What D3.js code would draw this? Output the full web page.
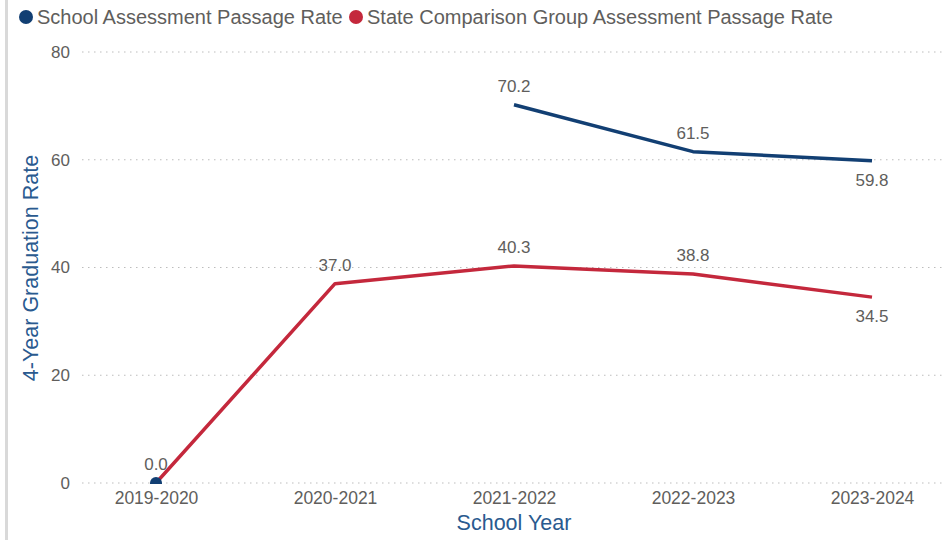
<!DOCTYPE html>
<html>
<head>
<meta charset="utf-8">
<script src="https://cdn.jsdelivr.net/npm/d3@7"></script>
<style>
  body { margin: 0; background: #fff; }
  svg { font-family: "Liberation Sans", Arial, sans-serif; }
</style>
</head>
<body>
<div id="chart"></div>
<script>
// Chart data
const years = ["2019-2020", "2020-2021", "2021-2022", "2022-2023", "2023-2024"];
const schoolRate = [0.0, null, 70.2, 61.5, 59.8];
const stateRate = [0.0, 37.0, 40.3, 38.8, 34.5];
const yTicks = [0, 20, 40, 60, 80];
// label placement: "above" or "below"
const schoolLabelPos = ["above", null, "above", "above", "below"];
const stateLabelPos = [null, "above", "above", "above", "below"];

const W = 948, H = 540;
const plotLeft = 82, plotRight = 945, plotTop = 52, plotBottom = 483;

const svg = d3.select("#chart").append("svg")
    .attr("width", W)
    .attr("height", H);

// Left frame edge
svg.append("rect")
    .attr("x", 5).attr("y", 0)
    .attr("width", 3).attr("height", H)
    .attr("fill", "#d9d9d9");

const x = d3.scalePoint()
    .domain(years)
    .range([156, 872]);

const y = d3.scaleLinear()
    .domain([0, 80])
    .range([plotBottom, plotTop]);

// Gridlines
svg.append("g")
    .selectAll("line")
    .data(yTicks)
    .enter()
    .append("line")
    .attr("x1", plotLeft)
    .attr("x2", plotRight)
    .attr("y1", d => y(d))
    .attr("y2", d => y(d))
    .attr("stroke", "#bdbdbd")
    .attr("stroke-width", 1.2)
    .attr("stroke-dasharray", "1.5,4.5");

// Y axis labels
const yAxis = svg.append("g")
    .attr("transform", "translate(70,0)")
    .call(d3.axisLeft(y).tickValues(yTicks).tickSize(0).tickPadding(0));
yAxis.select(".domain").remove();
yAxis.selectAll("text")
    .attr("fill", "#605e5c")
    .style("font-size", "17px");

// X axis labels
const xAxis = svg.append("g")
    .attr("transform", `translate(0,${plotBottom + 9})`)
    .call(d3.axisBottom(x).tickSize(0).tickPadding(0));
xAxis.select(".domain").remove();
xAxis.selectAll("text")
    .attr("fill", "#605e5c")
    .attr("dy", "0.71em")
    .style("font-size", "17.5px");

// Axis titles
svg.append("text")
    .attr("x", 514)
    .attr("y", 530)
    .attr("text-anchor", "middle")
    .attr("fill", "#2a5a8f")
    .style("font-size", "21.5px")
    .text("School Year");

svg.append("text")
    .attr("transform", "translate(38,268) rotate(-90)")
    .attr("text-anchor", "middle")
    .attr("fill", "#2a5a8f")
    .style("font-size", "21.5px")
    .text("4-Year Graduation Rate");

// Clip marks to plot area
svg.append("clipPath").attr("id", "plot-clip")
    .append("rect")
    .attr("x", 0).attr("y", 0)
    .attr("width", W).attr("height", plotBottom + 1);

const plot = svg.append("g").attr("clip-path", "url(#plot-clip)");

const line = d3.line()
    .defined(d => d != null)
    .x((d, i) => x(years[i]))
    .y(d => y(d));

const series = [
    { values: stateRate, color: "#c4283c", labels: stateLabelPos },
    { values: schoolRate, color: "#123f73", labels: schoolLabelPos }
];

series.forEach(s => {
    plot.append("path")
        .datum(s.values)
        .attr("fill", "none")
        .attr("stroke", s.color)
        .attr("stroke-width", 3.5)
        .attr("stroke-linejoin", "round")
        .attr("d", line);

    // markers for isolated points
    const isolated = s.values.map((v, i) => ({ v, i }))
        .filter(d => d.v != null
            && (d.i === 0 || s.values[d.i - 1] == null)
            && (d.i === s.values.length - 1 || s.values[d.i + 1] == null));
    plot.selectAll(null)
        .data(isolated)
        .enter()
        .append("circle")
        .attr("cx", d => x(years[d.i]))
        .attr("cy", d => y(d.v))
        .attr("r", 6)
        .attr("fill", s.color);
});

// Data labels
series.forEach(s => {
    const pts = s.values.map((v, i) => ({ v, i, pos: s.labels[i] }))
        .filter(d => d.v != null && d.pos);
    svg.selectAll(null)
        .data(pts)
        .enter()
        .append("text")
        .attr("x", d => x(years[d.i]))
        .attr("y", d => y(d.v) + (d.pos === "above" ? -13 : 25))
        .attr("text-anchor", "middle")
        .attr("fill", "#605e5c")
        .style("font-size", "17px")
        .text(d => d.v.toFixed(1));
});

// Legend
const legendItems = [
    { name: "School Assessment Passage Rate", color: "#123f73", x: 26 },
    { name: "State Comparison Group Assessment Passage Rate", color: "#c4283c", x: 356 }
];
const legend = svg.append("g");
legendItems.forEach(item => {
    legend.append("circle")
        .attr("cx", item.x)
        .attr("cy", 17)
        .attr("r", 7)
        .attr("fill", item.color);
    legend.append("text")
        .attr("x", item.x + 11)
        .attr("y", 24)
        .attr("fill", "#605e5c")
        .style("font-size", "20px")
        .text(item.name);
});
</script>
</body>
</html>
